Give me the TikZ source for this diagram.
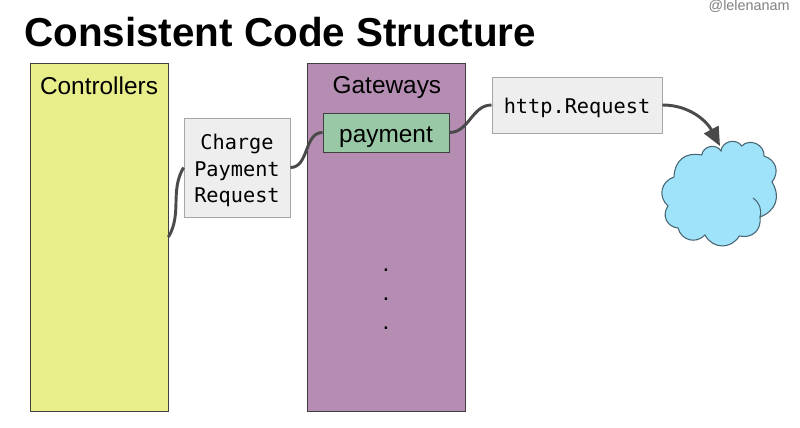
\documentclass[tikz,border=0pt]{standalone}
\usepackage{fontspec}
\setmainfont{Liberation Sans}
\setmonofont{DejaVu Sans Mono}
\usetikzlibrary{arrows.meta,positioning}
\definecolor{ctrlfill}{HTML}{E8EE8A}
\definecolor{gatefill}{HTML}{B58DB3}
\definecolor{payfill}{HTML}{98C8A5}
\definecolor{reqfill}{HTML}{EEEEEE}
\definecolor{cloudfill}{HTML}{9FE3FA}
\definecolor{linkgray}{HTML}{4A4A4A}
\newcommand{\liftmono}{\rule{0pt}{16pt}}
\tikzset{
  column/.style={
    draw=black!75, line width=0.7pt, minimum width=103.5pt, minimum height=261pt,
    inner sep=0pt
  },
  head/.style={font=\fontsize{18.3}{22}\selectfont, inner sep=0pt},
  reqbox/.style={
    draw=black!35, line width=0.7pt, fill=reqfill, align=center, inner sep=0pt,
    font=\ttfamily\fontsize{15.2}{20.2}\selectfont
  },
  link/.style={draw=linkgray, line width=2.2pt},
  bigarr/.style={link, -{Triangle[length=14pt,width=12pt]}},
  puff/.style={bend left=#1, looseness=1.2}
}

\begin{document}
\begin{tikzpicture}[x=0.75pt,y=-0.75pt]
  \useasboundingbox (0,0) rectangle (800,428);

  % --- title and handle ---------------------------------------------------
  \node[anchor=west, inner sep=0pt, font=\bfseries\fontsize{30.3}{36}\selectfont] (title) at (24,32) {Consistent Code Structure};
  \node[anchor=east, inner sep=0pt, text=black!50, font=\fontsize{10.8}{13}\selectfont] (handle) at (790,6.5) {@lelenanam};

  % --- columns -------------------------------------------------------------
  \node[column, fill=ctrlfill] (ctrl) at (99,237) {};
  \node[column, fill=gatefill, minimum width=118.5pt, right=104.25pt of ctrl] (gate) {};
  \node[head, below=10.25pt of ctrl.north] (ctrlname) {Controllers};
  \node[head, below=10.25pt of gate.north] (gatename) {Gateways};
  \node[head, draw=black!75, line width=0.7pt, fill=payfill, minimum width=94.5pt, minimum height=29.25pt] (pay) at (386,132.5) {\rule{0pt}{18.8pt}payment};
  \node[inner sep=0pt, align=center, font=\fontsize{18.3}{21.75}\selectfont] (dots) at (386,299) {.\\.\\.};

  % --- request boxes ---------------------------------------------------------
  \node[reqbox, minimum width=79.5pt, minimum height=74.25pt] (chg) at (237,167.5) {\liftmono Charge\\Payment\\Request};
  \node[reqbox, minimum width=127.5pt, minimum height=42pt] (http) at (577,105) {\liftmono http.Request};

  % --- cloud -------------------------------------------------------------------
  \draw[draw=black!55!cloudfill, line width=0.8pt, fill=cloudfill]
    (701.7,155) to[puff=70] (721,151) to[puff=70] (741.7,146) to[puff=70] (764,156)
    to[puff=55] (772,182) to[puff=50] (760,217) to[puff=55] (739.3,236)
    to[puff=60] (705,235) to[puff=60] (678,228) to[puff=60] (668,206)
    to[puff=60] (674,177) to[puff=50] cycle;
  \draw[black!55!cloudfill, line width=0.8pt] (753,198) to[bend left=35] (760,217);
  \coordinate (hit) at (720,146);

  % --- connectors ----------------------------------------------------------------
  \draw[link] (ctrl.east) to[out=60, in=240] (chg.west);
  \draw[link] (chg.east) to[out=0, in=180] (pay.west);
  \draw[link] (pay.east) to[out=0, in=180] (http.west);
  \draw[bigarr] (http.east) to[out=0, in=118] (hit);
\end{tikzpicture}
\end{document}
